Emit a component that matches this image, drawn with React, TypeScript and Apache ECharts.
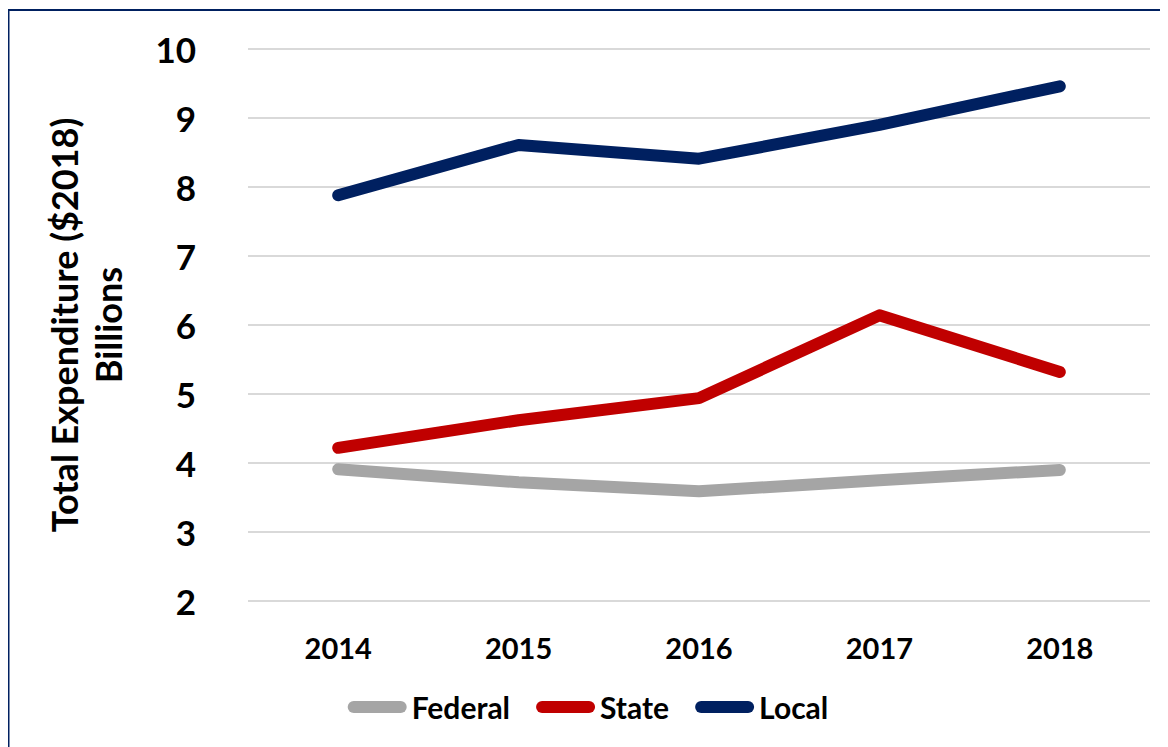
import React, { useEffect, useRef } from "react";
import * as echarts from "echarts";

const years = ["2014", "2015", "2016", "2017", "2018"];
const federal = [3.91, 3.72, 3.59, 3.75, 3.9];
const state = [4.22, 4.62, 4.94, 6.14, 5.32];
const local = [7.88, 8.61, 8.41, 8.9, 9.46];

const FONT = "Lato, 'Open Sans', sans-serif";

export default function App() {
  const ref = useRef<HTMLDivElement>(null);
  useEffect(() => {
    document.body.style.overflow = "hidden";
    const chart = echarts.init(ref.current!, undefined, { renderer: "svg" });
    const capsule = "path://M6,0 L53,0 A6,6 0 0 1 53,12 L6,12 A6,6 0 0 1 6,0 Z";
    chart.setOption({
      animation: false,
      backgroundColor: "#ffffff",
      graphic: [
        {
          type: "rect",
          shape: { x: 0.5, y: 2, width: 1300, height: 900 },
          style: { fill: "none", stroke: "#002060", lineWidth: 2 },
          silent: true,
        },
      ],
      grid: { left: 240, right: 18, top: 41, bottom: 146 },
      legend: {
        bottom: 20,
        left: "center",
        itemWidth: 59,
        itemHeight: 12,
        itemGap: 26,
        textStyle: { fontFamily: FONT, fontWeight: "bold", fontSize: 30, color: "#000" },
        data: [
          { name: "Federal", icon: capsule },
          { name: "State", icon: capsule },
          { name: "Local", icon: capsule },
        ],
      },
      xAxis: {
        type: "category",
        data: years,
        boundaryGap: true,
        axisLine: { show: false },
        axisTick: { show: false },
        axisLabel: { margin: 32, fontFamily: FONT, fontWeight: "bold", fontSize: 29, color: "#000" },
      },
      yAxis: {
        type: "value",
        min: 2,
        max: 10,
        interval: 1,
        name: "Total Expenditure ($2018)\nBillions",
        nameLocation: "middle",
        nameRotate: 90,
        nameGap: 118,
        nameTextStyle: { fontFamily: FONT, fontWeight: "bold", fontSize: 36, color: "#000", lineHeight: 44 },
        axisLine: { show: false },
        axisTick: { show: false },
        axisLabel: { margin: 52, fontFamily: FONT, fontWeight: "bold", fontSize: 35, color: "#000" },
        splitLine: { lineStyle: { color: "#D9D9D9", width: 2 } },
      },
      series: [
        { name: "Federal", type: "line", data: federal, color: "#A5A5A5" },
        { name: "State", type: "line", data: state, color: "#C00000" },
        { name: "Local", type: "line", data: local, color: "#002060" },
      ].map((s) => ({
        ...s,
        showSymbol: false,
        symbol: "none",
        lineStyle: { width: 12, color: s.color, cap: "round", join: "round" },
        itemStyle: { color: s.color },
      })),
    });
    return () => chart.dispose();
  }, []);
  return <div ref={ref} style={{ width: 1160, height: 739 }} />;
}
